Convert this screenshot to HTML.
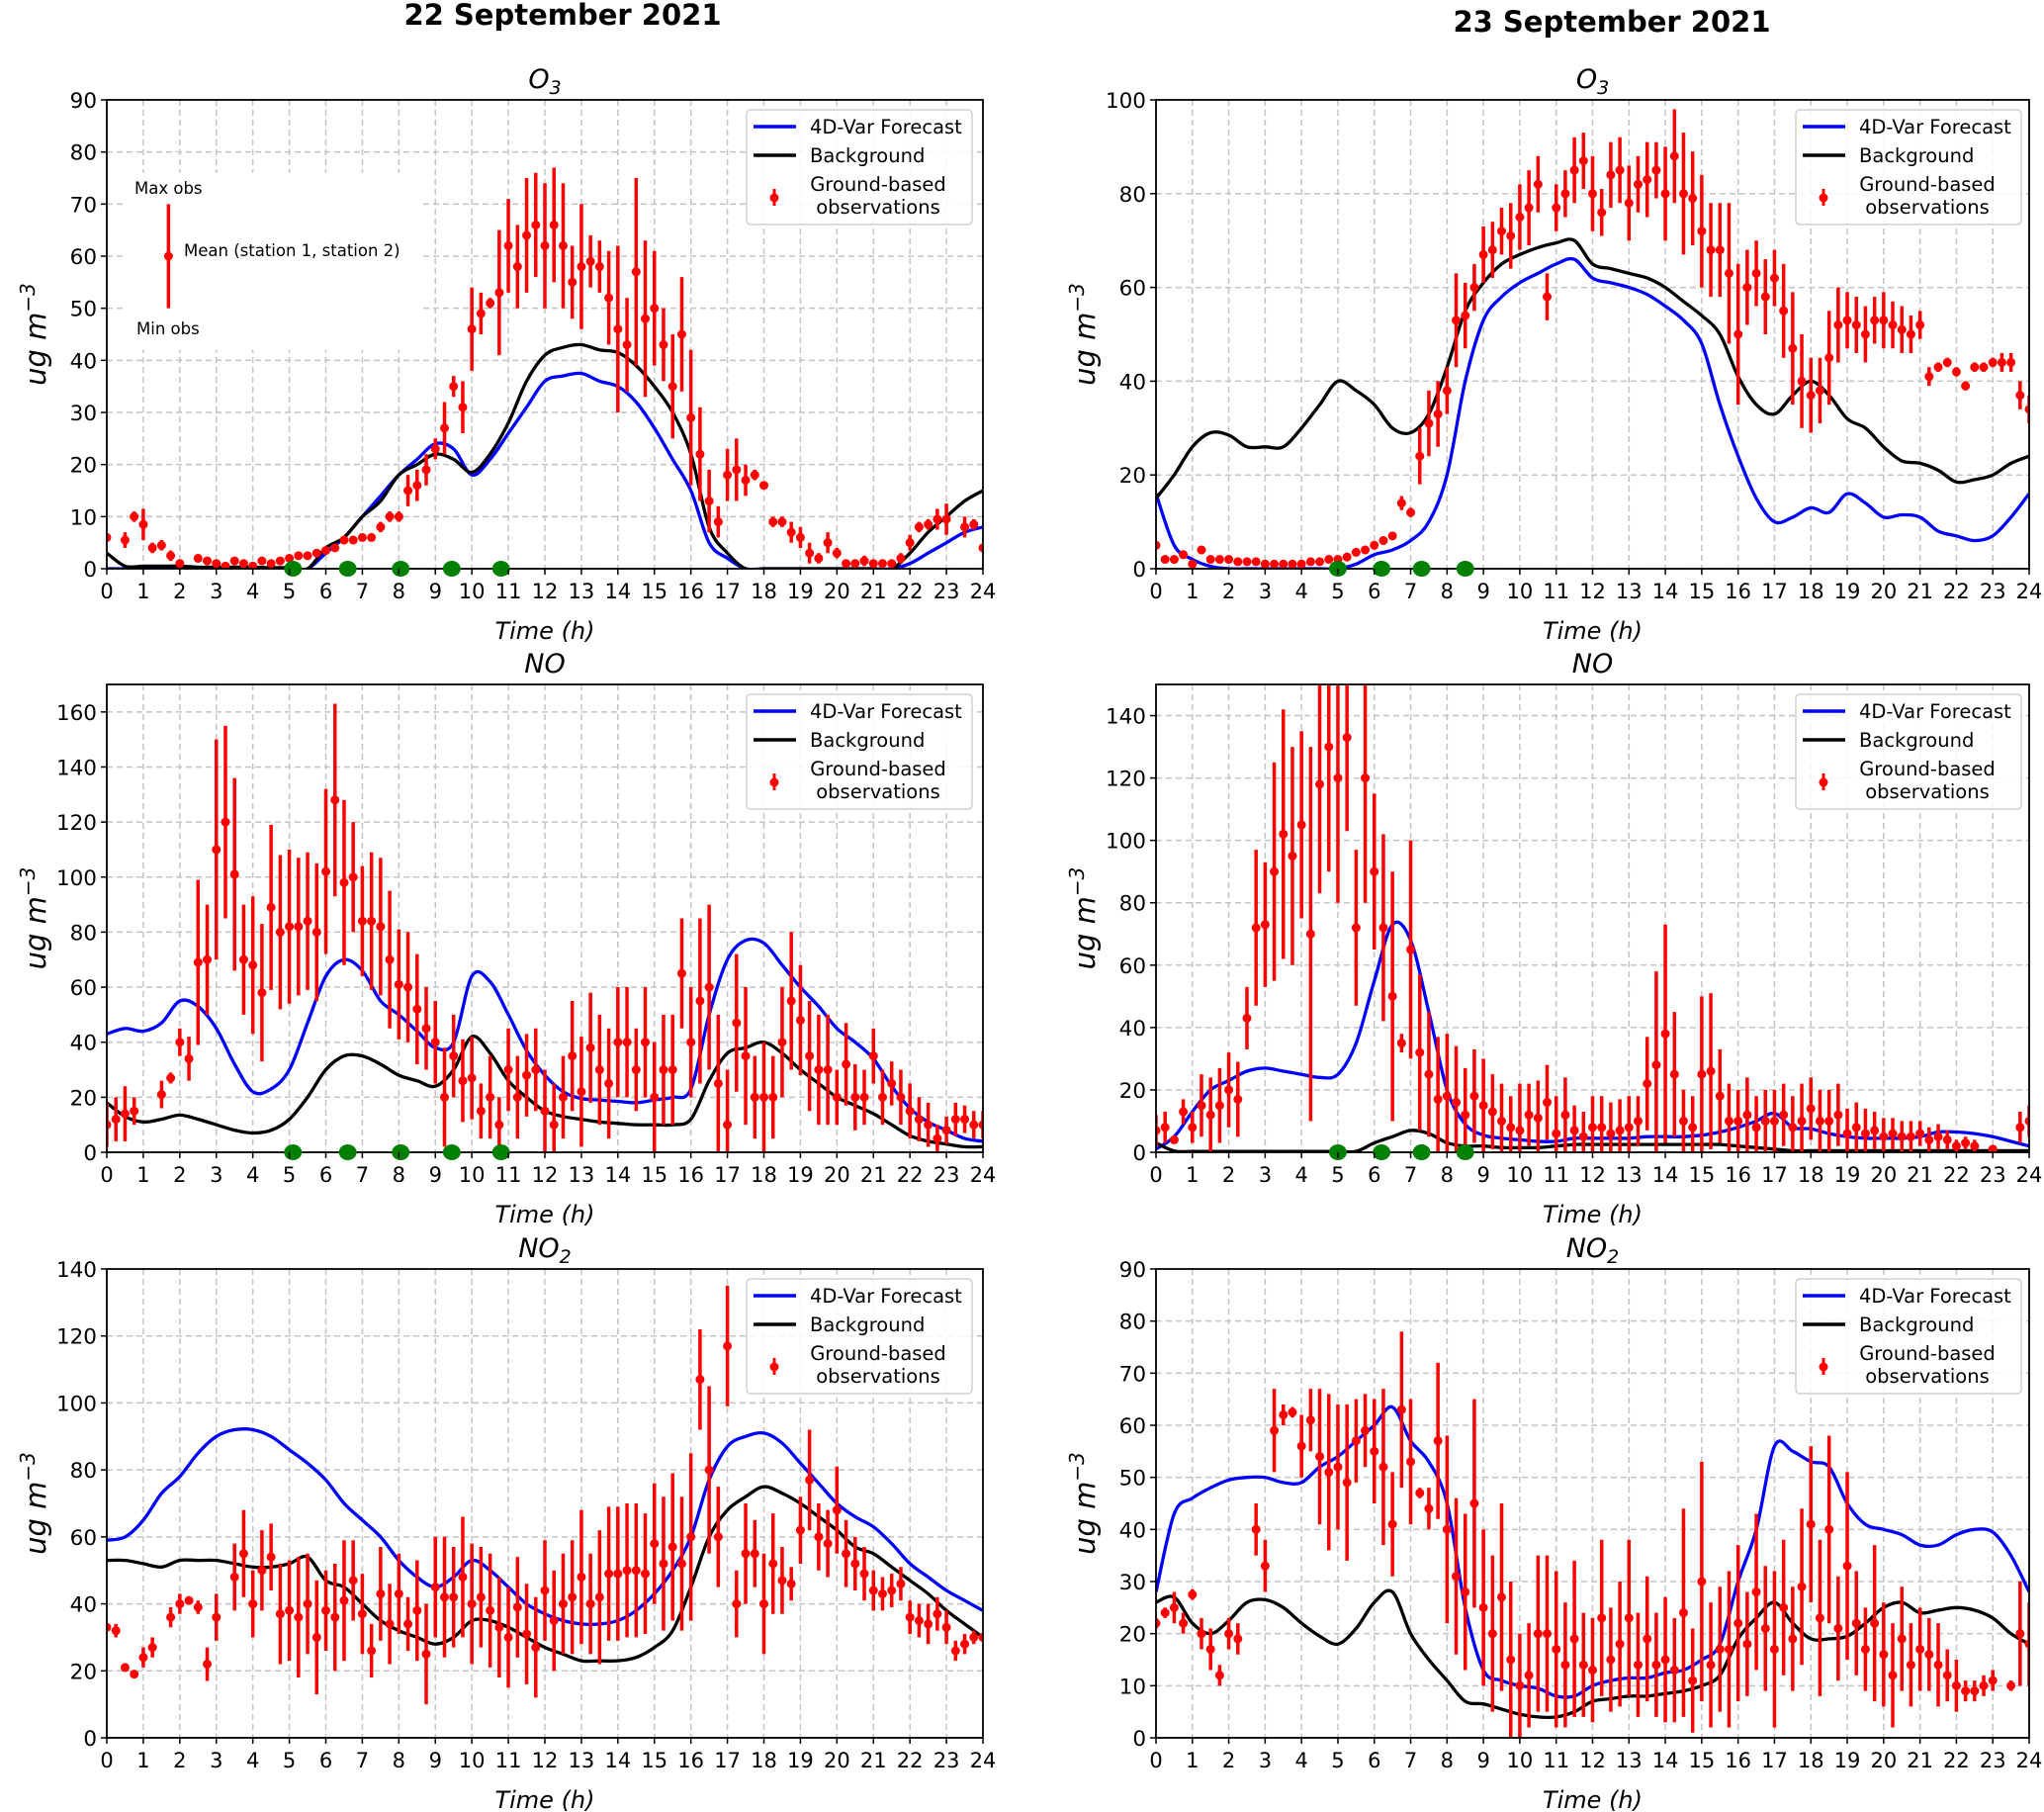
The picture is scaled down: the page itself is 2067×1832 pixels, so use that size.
<!DOCTYPE html>
<html><head><meta charset="utf-8"><title>O3 NO NO2 forecasts</title>
<style>
html,body{margin:0;padding:0;background:#fff;}
svg{display:block;font-family:"DejaVu Sans","Liberation Sans",sans-serif;}
</style></head>
<body>
<svg id="fig" xmlns="http://www.w3.org/2000/svg" width="2067" height="1832" viewBox="0 0 2067 1832">
<rect x="0" y="0" width="2067" height="1832" fill="#fff"/>
<text x="569" y="25" text-anchor="middle" font-size="29" font-weight="bold">22 September 2021</text>
<text x="1630" y="32" text-anchor="middle" font-size="29" font-weight="bold">23 September 2021</text>
</svg>
<script>
// ---------- DATA (hourly rows of 4 values at 0, .25, .5, .75 h; last value is 24 h) ----------
const hourTicks = [0,1,2,3,4,5,6,7,8,9,10,11,12,13,14,15,16,17,18,19,20,21,22,23,24];
const assimTimes22 = [5.1,6.6,8.05,9.45,10.8];
const assimTimes23 = [5.0,6.2,7.3,8.5];

// Panel A: O3 22 Sept
const o3d22Blue = [0,0,0,0,0,0,0,0,0,0,0,0,3,6,10,14,18,21,24,23,18,21,26,31,36,37,37.5,36,35,32,27,21,15,5,2,0,0,0,0,0,0,0,0,0,1,3,5,7,8];
const o3d22Black = [3,0.5,0.5,0.5,0.5,0.3,0.3,0.3,0.3,0.2,0.2,0,4,6,10,13,18,20,22,21,18.5,22,28,36,41,42.5,43,42,41.5,39,35,30,22,8,3,0,0,0,0,0,0,0,0,0,3,7,10,13,15];
const o3d22Mean = [6,null,5.5,10, 8.5,4,4.5,2.5, 1,null,2,1.5, 1,0.5,1.5,1, 0.5,1.5,1,1.5, 2,2.5,2.5,3, 3.5,4,5.5,5.5, 6,6,8,10, 10,15,16,19, 23,27,35,31, 46,49,51,53, 62,58,64,66, 62,66,62,55, 58,59,58,52, 46,43,57,48, 50,43,35,45, 29,22,13,9, 18,19,17,18, 16,9,9,7, 6,3,2,5, 3,1,1,1.5, 1,1,1,2, 5,8,8.5,9.5, 9.5,null,8,8.5, 4];
const o3d22Err = [0,0,1.5,1, 3,1,1,1, 0,0,0.5,0.5, 0.5,0.5,0.5,0.5, 0.5,0.5,0.5,0.5, 0.5,0.5,0.5,0.5, 0.5,0.5,0.5,0.5, 0.5,0.5,1,1, 1,3,3,3, 2,5,2,5, 8,4,1,12, 9,8,11,10, 12,11,12,7, 12,5,5,9, 16,9,18,15, 11,7,10,11, 13,9,6,3, 5,6,3,1, 0,1,1,2, 2,2,1,2, 1,0.5,0.5,1, 0.5,0.5,0.5,1, 1.5,1,1,2, 3,0,2,1, 0];

// Panel B: O3 23 Sept
const o3d23Blue = [16,5,2,0.5,0,0,0,0,0,0,0,1,3,4,6,10,20,40,53,58,61,63,65,66,62,61,60,58.5,56,53,48,35,24,15,10,11,13,12,16,14,11,11.5,11,8,7,6,7,11,16];
const o3d23Black = [15,20,26,29,28.5,26,26,26,30,35,40,38,35,30,29,33,43,55,61,65,67,68.5,69.5,70,65,64,63,62,60,57,54,50,41,35,33,37,40,37,32,30,26,23,22.5,21,18.5,19,20,22.5,24];
const o3d23Mean = [5,2,2,3, 1,4,2,2, 2,1.5,1.5,1.5, 1,1,1,1, 1,1.5,1.5,2, 2,2.5,3.5,4, 5,6,7,14, 12,24,31,33, 38,53,54,60, 67,68,72,71, 75,77,82,58, 77,80,85,87, 80,76,84,85, 78,82,83,85, 80,88,80,79, 72,68,68,63, 50,60,63,58, 62,55,47,40, 37,38,45,52, 53,52,50,53, 53,52,51,50, 52,41,43,44, 42,39,43,43, 44,44,44,37, 34];
const o3d23Err = [0,0,0,0, 0,0,0,0, 0,0,0,0, 0,0,0,0, 0,0,0,0, 0,0,0,0, 0,0,0,1.5, 1,6,7,7, 5,10,7,5, 6,6,5,7, 7,8,6,5, 5,5,7,6, 8,5,7,7, 8,6,8,6, 10,10,13,10, 12,10,10,15, 15,8,7,8, 6,10,12,10, 8,7,10,8, 6,6,6,5, 6,5,5,4, 3,2,1,1, 1,1,1,1, 1,2,2,3, 3];

// Panel C: NO 22 Sept
const nod22Blue = [43,45,44,47,55,53,45,32,22,23,30,47,64,70,66,55,50,44,38,40,64,62,50,37,28,22,19.5,19,18.5,18,19,20,23,50,70,77,76,68,60,53,45,40,34,24,16,11,8,5,4];
const nod22Black = [18,13,11,12,13.5,12,10,8,7,8,12,20,30,35,35,32,28,26,24,30,42,36,26,20,15,13,12,11,10.5,10,10,10,12,26,36,38,40,36,30,25,20,17,14,10,6,4,3,2,2];
const nod22Mean = [10,12,14,15, null,null,21,27, 40,34,69,70, 110,120,101,70, 68,58,89,80, 82,82,84,80, 102,128,98,100, 84,84,82,70, 61,60,52,45, 40,20,35,26, 27,15,20,10, 30,20,28,30, 15,10,20,35, 22,38,30,25, 40,40,30,40, 20,30,30,65, 40,55,60,25, 10,47,35,20, 20,20,40,55, 48,35,30,30, 20,32,20,20, 35,20,25,20, 15,12,10,5, 8,12,12,10, 10];
const nod22Err = [8,8,10,5, 0,0,5,2, 5,8,30,20, 40,35,35,20, 25,25,30,28, 28,25,25,25, 30,35,30,20, 20,25,25,25, 20,20,20,15, 15,18,15,15, 15,10,15,10, 15,15,15,15, 15,15,15,20, 20,20,20,20, 20,20,15,20, 20,20,20,20, 20,30,30,25, 20,25,25,15, 20,15,20,25, 20,20,20,20, 10,15,12,10, 10,10,8,10, 10,8,8,5, 5,6,5,5, 5];

// Panel D: NO 23 Sept
const nod23Blue = [1,5,13,20,23,26,27,26,25,24,25,35,55,73,68,45,20,9,5.5,4.5,4,3.5,3.5,4.5,4.5,4.5,4.5,5,5,5,5.5,6.5,8,10,12.5,8,7.5,6,5,4.5,4.5,4.5,5,6.5,6.5,6,5,3.5,2];
const nod23Black = [3,0.4,0.3,0.3,0.3,0.3,0.3,0.3,0.3,0.3,0.3,0.3,3,5,7,6,3,2,2,1.5,1.5,1.5,2,2.5,2.5,2.5,2.5,2.5,2.5,2.5,2.5,2.5,2,1.5,1,0.5,0.5,0.5,0.5,0.5,0.5,0.5,0.5,0.5,0.5,0.5,0.5,0.5,0.5];
const nod23Mean = [7,8,4,13, 8,15,12,15, 20,17,43,72, 73,90,102,95, 105,70,118,130, 120,133,72,120, 90,72,50,35, 65,32,25,17, 18,16,12,18, 15,13,10,8, 7,12,11,16, 6,12,7,5, 8,8,6,7, 8,10,22,28, 38,25,10,8, 25,26,18,10, 10,12,8,10, 10,12,8,10, 14,10,10,12, 6,8,6,7, 5,6,5,5, 6,4,5,4, 2,3,2,null, 1,null,null,8, 10];
const nod23Err = [5,5,0,4, 5,10,12,12, 12,12,10,25, 20,35,40,35, 30,60,35,40, 40,30,25,40, 25,30,40,3, 35,25,20,20, 20,18,15,15, 15,12,12,10, 15,10,12,12, 12,12,8,8, 10,10,10,10, 10,8,15,30, 35,20,10,10, 25,25,15,12, 10,12,10,10, 10,10,10,12, 10,10,10,10, 8,8,8,6, 6,5,5,5, 4,4,4,3, 2,2,2,0, 1,0,0,5, 5];

// Panel E: NO2 22 Sept
const no2d22Blue = [59,60,65,73,78,85,90,92,92,90,86,82,77,70,65,60,53,48,45,48,53,50,45,40,37,35,34,34,35,38,43,50,60,77,87,90,91,88,82,76,70,66,63,58,52,48,44,41,38];
const no2d22Black = [53,53,52,51,53,53,53,52,51,51,52,54,47,45,40,35,32,30,28,30,35,35,33,30,27,25,23,23,23,24,27,32,45,60,68,72,75,73,70,66,62,57,55,51,47,43,38,34,30];
const no2d22Mean = [33,32,21,19, 24,27,null,36, 40,41,39,22, 36,null,48,55, 40,50,54,37, 38,36,40,30, 38,36,41,47, 37,26,43,34, 43,34,38,25, 45,42,42,48, 40,42,38,33, 30,39,31,27, 44,35,40,42, 48,40,42,49, 49,50,50,49, 58,52,57,52, 60,107,80,60, 117,40,55,55, 40,52,47,46, 62,77,60,58, 68,55,52,49, 44,43,44,46, 36,35,34,37, 33,26,28,30, 30];
const no2d22Err = [0,2,1,0, 3,3,0,3, 3,0,2,5, 7,0,10,13, 10,12,10,15, 15,18,15,17, 12,16,18,12, 12,8,14,12, 12,8,15,15, 15,18,15,18, 18,15,17,15, 15,15,15,15, 15,15,15,17, 20,15,20,20, 20,20,20,18, 18,20,22,20, 25,15,25,15, 18,10,15,10, 15,15,10,5, 10,15,10,10, 13,10,8,8, 6,5,5,5, 5,5,6,5, 5,3,3,2, 0];

// Panel F: NO2 23 Sept
const no2d23Blue = [28,43,46,48,49.5,50,50,49,49,52,54,57,60,63.5,57,53,45,25,13,11,10,9.5,8,8,10,11,11.5,11.5,12.5,13,15,18,30,40,56,55,53,52,45,41,40,39,37,37,39,40,39.5,35,28];
const no2d23Black = [26,27,22,20,22.5,26,26.5,25,22,19.5,18,21,26,28,20,15,11,7,6.5,5.5,4.5,4,4,5,7,7.5,8,8,8.5,9,10,12,19,23,26,22,19,19,19.5,22,25,26,24,24.5,25,24.5,23,20,18];
const no2d23Mean = [22,24,25,22, 27.5,20,17,12, 20,19,null,40, 33,59,62,62.5, 56,61,54,51, 52,49,57,59, 55,52,41,63, 53,47,44,57, 40,31,28,45, 25,20,27,15, 10,12,20,20, 17,14,19,14, 13,23,15,18, 23,14,19,14, 15,13,24,11, 30,14,17,17, 22,18,28,21, 17,25,19,29, 41,23,40,21, 33,22,17,22, 16,12,19,14, 17,16,14,12, 10,9,9,10, 11,null,10,20, 18];
const no2d23Err = [1,1,3,2, 1,3,4,2, 3,3,0,5, 5,8,2,1, 6,6,13,15, 12,15,8,7, 10,15,10,15, 12,1,4,15, 18,15,15,20, 15,15,18,15, 10,10,15,15, 15,12,15,10, 10,15,10,12, 15,10,12,10, 12,10,20,10, 23,12,12,15, 15,10,15,12, 15,13,10,15, 15,15,18,10, 18,10,8,15, 10,10,10,8, 8,7,8,5, 5,2,2,2, 2,0,1,10, 8];

// ---------- RENDERING ----------
const NS = "http://www.w3.org/2000/svg";
const svg = document.getElementById('fig');
function mk(tag, attrs, parent){
  const e = document.createElementNS(NS, tag);
  for (const k in attrs) e.setAttribute(k, attrs[k]);
  (parent||svg).appendChild(e);
  return e;
}

const panels = [
  {id:'o3-22', title:'O', sub:'3', x0:108, x1:994, yT:101, yB:575, ymax:90, step:10, blue:o3d22Blue, black:o3d22Black, mean:o3d22Mean, err:o3d22Err, assim:assimTimes22, note:true},
  {id:'o3-23', title:'O', sub:'3', x0:1169, x1:2052, yT:101, yB:575, ymax:100, step:20, blue:o3d23Blue, black:o3d23Black, mean:o3d23Mean, err:o3d23Err, assim:assimTimes23},
  {id:'no-22', title:'NO', sub:'', x0:108, x1:994, yT:692, yB:1165, ymax:170, step:20, blue:nod22Blue, black:nod22Black, mean:nod22Mean, err:nod22Err, assim:assimTimes22},
  {id:'no-23', title:'NO', sub:'', x0:1169, x1:2052, yT:692, yB:1165, ymax:150, step:20, blue:nod23Blue, black:nod23Black, mean:nod23Mean, err:nod23Err, assim:assimTimes23},
  {id:'no2-22', title:'NO', sub:'2', x0:108, x1:994, yT:1283, yB:1757, ymax:140, step:20, blue:no2d22Blue, black:no2d22Black, mean:no2d22Mean, err:no2d22Err, assim:[]},
  {id:'no2-23', title:'NO', sub:'2', x0:1169, x1:2052, yT:1283, yB:1757, ymax:90, step:10, blue:no2d23Blue, black:no2d23Black, mean:no2d23Mean, err:no2d23Err, assim:[]}
];

function smoothPath(pts){
  let d = 'M' + pts[0][0].toFixed(1) + ',' + pts[0][1].toFixed(1);
  for (let i = 0; i < pts.length - 1; i++) {
    const p0 = pts[Math.max(0, i-1)], p1 = pts[i], p2 = pts[i+1], p3 = pts[Math.min(pts.length-1, i+2)];
    const c1x = p1[0] + (p2[0]-p0[0])/6, c1y = p1[1] + (p2[1]-p0[1])/6;
    const c2x = p2[0] - (p3[0]-p1[0])/6, c2y = p2[1] - (p3[1]-p1[1])/6;
    d += ' C' + c1x.toFixed(1) + ',' + c1y.toFixed(1) + ' ' + c2x.toFixed(1) + ',' + c2y.toFixed(1) + ' ' + p2[0].toFixed(1) + ',' + p2[1].toFixed(1);
  }
  return d;
}

panels.forEach(p => {
  const g = mk('g', {});
  
  
  const X = t => p.x0 + (p.x1 - p.x0) * t / 24;
  const Y = v => p.yB - (p.yB - p.yT) * v / p.ymax;
  const clipId = 'clip-' + p.id;
  const cp = mk('clipPath', {id: clipId}, g);
  mk('rect', {x:p.x0, y:p.yT, width:p.x1-p.x0, height:p.yB-p.yT}, cp);

  const grid = mk('g', {stroke:'#c4c4c4', 'stroke-width':1.5, 'stroke-dasharray':'6,4'}, g);
  
  
  hourTicks.forEach(t => { mk('line', {x1:X(t), x2:X(t), y1:p.yT, y2:p.yB}, grid); });
  for (let v = 0; v < p.ymax; v += p.step) mk('line', {x1:p.x0, x2:p.x1, y1:Y(v), y2:Y(v)}, grid);

  const plot = mk('g', {'clip-path':'url(#' + clipId + ')'}, g);

  if (p.note) {
    mk('rect', {x:X(0.5), y:Y(76), width:X(8.6)-X(0.5), height:Y(42)-Y(76), fill:'#fff'}, plot);
  }

  function curve(arr, color, name){
    const pts = arr.map((v,i) => [X(i*0.5), Y(v)]);
    const pl = mk('path', {d:smoothPath(pts), fill:'none', stroke:color, 'stroke-width':3.3, 'stroke-linejoin':'round'}, plot);
    
    
  }
  curve(p.blue, '#0000ff', '4dvar-forecast-line');
  curve(p.black, '#000000', 'background-line');

  const obs = mk('g', {}, plot);
  
  
  p.mean.forEach((m, i) => {
    if (m === null) return;
    const t = i * 0.25, e = p.err[i] || 0;
    if (e > 0) mk('line', {x1:X(t), x2:X(t), y1:Y(m-e), y2:Y(m+e), stroke:'#ff0000', 'stroke-width':3.5}, obs);
    const c = mk('circle', {cx:X(t), cy:Y(m), r:4.5, fill:'#ff0000'}, obs);
    
    
  });

  mk('rect', {x:p.x0, y:p.yT, width:p.x1-p.x0, height:p.yB-p.yT, fill:'none', stroke:'#000', 'stroke-width':1.8}, g);

  p.assim.forEach(t => {
    const el = mk('ellipse', {cx:X(t), cy:p.yB, rx:9, ry:8, fill:'#008000'}, g);
    
    
  });

  const xt = mk('g', {'font-size':21, 'text-anchor':'middle'}, g);
  
  
  hourTicks.forEach(t => {
    mk('line', {x1:X(t), x2:X(t), y1:p.yB, y2:p.yB+6, stroke:'#000', 'stroke-width':1.5}, xt);
    const tx = mk('text', {x:X(t), y:p.yB+30}, xt);
    tx.textContent = t;
  });
  const yt = mk('g', {'font-size':21.5, 'text-anchor':'end'}, g);
  
  
  for (let v = 0; v <= p.ymax; v += p.step) {
    mk('line', {x1:p.x0-6, x2:p.x0, y1:Y(v), y2:Y(v), stroke:'#000', 'stroke-width':1.5}, yt);
    const tx = mk('text', {x:p.x0-10, y:Y(v)+8}, yt);
    tx.textContent = v;
  }

  const xl = mk('text', {x:(p.x0+p.x1)/2, y:p.yB+71, 'font-size':24, 'font-style':'italic', 'text-anchor':'middle'}, g);
  
  
  xl.textContent = 'Time (h)';
  const ylx = p.x0 - 62, yly = (p.yT + p.yB) / 2;
  const yl = mk('text', {x:ylx, y:yly, 'font-size':29, 'font-style':'italic', 'text-anchor':'middle', transform:'rotate(-90 ' + ylx + ' ' + yly + ')'}, g);
  
  
  yl.innerHTML = 'ug m<tspan dy="-11" font-size="20">−3</tspan>';

  const st = mk('text', {x:(p.x0+p.x1)/2, y:p.yT-12, 'font-size':27, 'font-style':'italic', 'text-anchor':'middle'}, g);
  
  
  st.innerHTML = p.title + (p.sub ? '<tspan dy="6" font-size="19">' + p.sub + '</tspan>' : '');

  const lg = mk('g', {}, g);
  
  
  const lx = p.x0 + 647, ly = p.yT + 10;
  mk('rect', {x:lx, y:ly, width:228, height:116, rx:4, fill:'#fff', 'fill-opacity':0.85, stroke:'#d0d0d0', 'stroke-width':1.5}, lg);
  mk('line', {x1:lx+7, x2:lx+50, y1:ly+17, y2:ly+17, stroke:'#0000ff', 'stroke-width':3.5}, lg);
  mk('line', {x1:lx+7, x2:lx+50, y1:ly+46, y2:ly+46, stroke:'#000', 'stroke-width':3.5}, lg);
  mk('line', {x1:lx+28, x2:lx+28, y1:ly+80, y2:ly+97, stroke:'#ff0000', 'stroke-width':3}, lg);
  mk('circle', {cx:lx+28, cy:ly+89, r:4.5, fill:'#ff0000'}, lg);
  const lt = [['4D-Var Forecast', lx+64, ly+24, 'start'], ['Background', lx+64, ly+53, 'start'], ['Ground-based', lx+133, ly+82, 'middle'], ['observations', lx+133, ly+105, 'middle']];
  lt.forEach(a => { const e = mk('text', {x:a[1], y:a[2], 'font-size':19.5, 'text-anchor':a[3]}, lg); e.textContent = a[0]; });

  if (p.note) {
    const an = mk('g', {'font-size':16.5}, g);
    
    
    mk('line', {x1:X(1.69), x2:X(1.69), y1:Y(50), y2:Y(70), stroke:'#ff0000', 'stroke-width':3.5}, an);
    mk('circle', {cx:X(1.69), cy:Y(60), r:4.5, fill:'#ff0000'}, an);
    const a1 = mk('text', {x:136, y:196}, an); a1.textContent = 'Max obs';
    const a2 = mk('text', {x:186, y:259}, an); a2.textContent = 'Mean (station 1, station 2)';
    const a3 = mk('text', {x:138, y:338}, an); a3.textContent = 'Min obs';
  }
});
</script>
</body></html>
